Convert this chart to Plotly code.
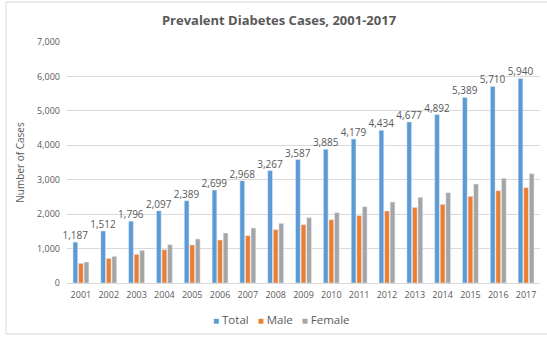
import plotly.graph_objects as go

years = [str(y) for y in range(2001, 2018)]
total = [1187, 1512, 1796, 2097, 2389, 2699, 2968, 3267, 3587, 3885,
         4179, 4434, 4677, 4892, 5389, 5710, 5940]
male = [571, 716, 833, 968, 1104, 1249, 1375, 1549, 1694, 1839,
        1955, 2091, 2197, 2285, 2517, 2681, 2769]
female = [610, 774, 949, 1113, 1278, 1452, 1597, 1733, 1897, 2043,
          2217, 2352, 2488, 2623, 2875, 3040, 3175]

series_names = ["Total", "Male", "Female"]
series_colors = ["#5B9BD5", "#ED7D31", "#A5A5A5"]

y_ticks = list(range(0, 8000, 1000))

FONT = "Open Sans, Liberation Sans, sans-serif"
TXT = "#595959"

fig = go.Figure()
for name, vals, color in zip(series_names, [total, male, female], series_colors):
    kw = {}
    if name == "Total":
        kw = dict(text=[f"{v:,}" for v in vals], textposition="outside",
                  textfont=dict(size=10, color=TXT, family=FONT),
                  constraintext="none", cliponaxis=False)
    fig.add_trace(go.Bar(name=name, x=years, y=vals, marker_color=color,
                         showlegend=False, **kw))

# compact legend row: coloured square + series name
legend_html = "&nbsp;&nbsp;&nbsp;".join(
    f"<span style='color:{c};font-size:10px'>■</span>&nbsp;{n}"
    for n, c in zip(series_names, series_colors)
)

fig.update_layout(
    width=547, height=338,
    margin=dict(l=67, r=7, t=42, b=55),
    paper_bgcolor="white", plot_bgcolor="white",
    barmode="group", bargap=0.40, bargroupgap=0.15,
    font=dict(family=FONT, color=TXT),
    title=dict(text="<b>Prevalent Diabetes Cases, 2001-2017</b>",
               x=279 / 547, xanchor="center", y=1 - 20 / 338, yanchor="middle",
               font=dict(size=13, color=TXT, family=FONT)),
    annotations=[dict(text=legend_html, xref="paper", yref="paper",
                      x=(281 - 67) / 473, xanchor="center",
                      y=(283 - 319) / 241, yanchor="middle",
                      showarrow=False,
                      font=dict(size=11.5, color=TXT, family=FONT))],
    shapes=[dict(type="rect", xref="paper", yref="paper",
                 x0=-0.129, x1=1.05, y0=-0.2116, y1=1.166,
                 line=dict(color="#d9d9d9", width=1), layer="below")],
)
fig.update_xaxes(showgrid=False, showline=False, ticks="", ticklabelstandoff=5,
                 tickfont=dict(size=9, color=TXT, family=FONT))
fig.update_yaxes(range=[0, 7000], tickvals=y_ticks,
                 ticktext=[f"{v:,}" for v in y_ticks],
                 showgrid=True, gridcolor="#d9d9d9", gridwidth=1,
                 zeroline=True, zerolinecolor="#d9d9d9", zerolinewidth=1,
                 showline=False, ticks="", ticklabelstandoff=6,
                 tickfont=dict(size=9, color=TXT, family=FONT),
                 title=dict(text="Number of Cases", standoff=10,
                            font=dict(size=10, color=TXT, family=FONT)))

fig.write_html("out.html")
